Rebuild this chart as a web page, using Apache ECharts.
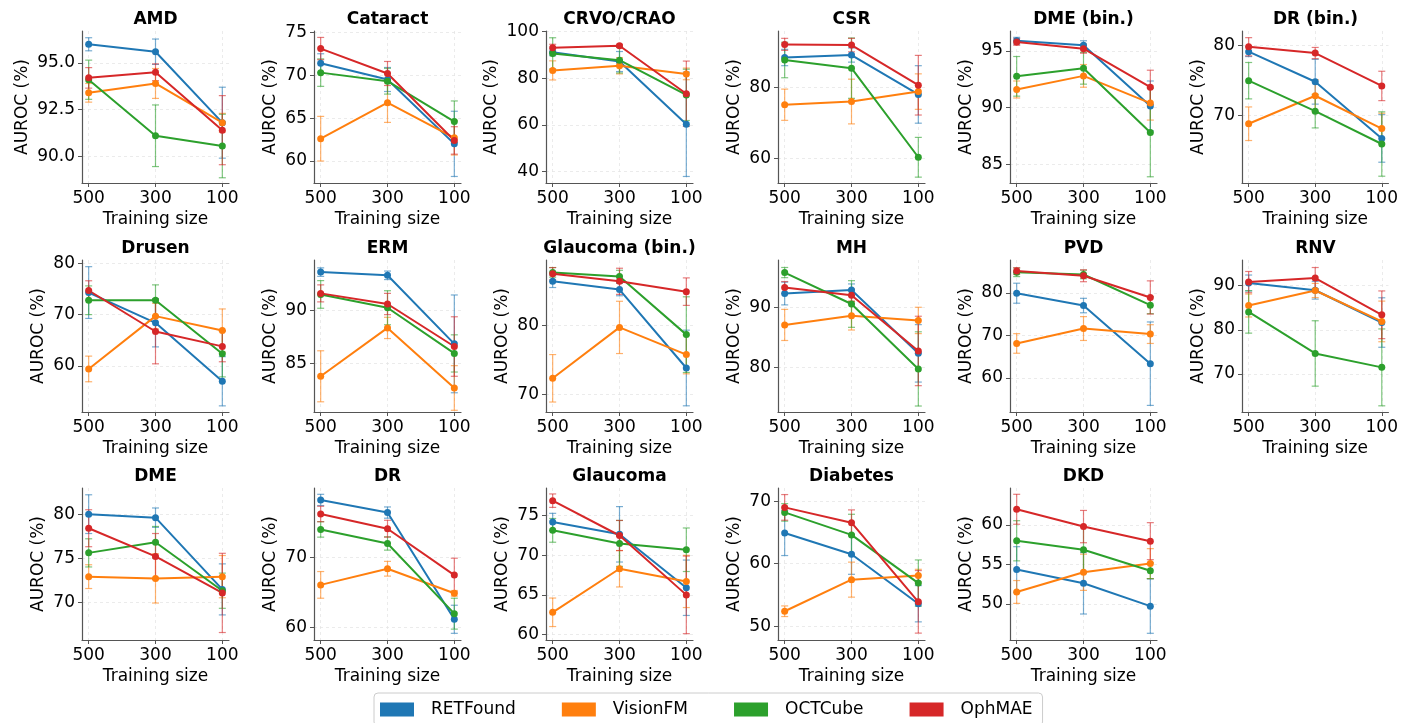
<!DOCTYPE html>
<html>
<head>
<meta charset="UTF-8">
<title>AUROC vs training size</title>
<script src="https://cdn.jsdelivr.net/npm/echarts@6/dist/echarts.min.js"></script>
<style>
  html,body{margin:0;background:#fff;}
  #chart{width:1401px;height:723px;}
</style>
</head>
<body>
<div id="chart"></div>
<script>
const sizes  = ['500','300','100'];
const models = ['RETFound','VisionFM','OCTCube','OphMAE'];
const colors = ['#1f77b4','#ff7f0e','#2ca02c','#d62728'];
const tasks  = ['AMD','Cataract','CRVO/CRAO','CSR','DME (bin.)','DR (bin.)',
                'Drusen','ERM','Glaucoma (bin.)','MH','PVD','RNV',
                'DME','DR','Glaucoma','Diabetes','DKD'];

// mean AUROC (%) at training size 500 / 300 / 100, one row per task
const retfound = [[96.0,95.6,91.8],[71.4,69.5,62.0],[91.2,87.2,60.3],[88.4,89.1,78.0],[95.9,95.5,90.15],[79.1,74.8,66.7],
  [74.3,68.4,57.0],[93.6,93.3,86.85],[86.4,85.2,73.8],[92.3,92.9,82.3],[79.9,77.0,63.35],[90.6,88.95,81.65],
  [80.0,79.6,71.45],[78.2,76.4,61.2],[74.2,72.65,65.9],[64.9,61.5,53.6],[54.35,52.6,49.7]];
const retfoundErr = [[0.35,0.68,1.9],[1.1,1.4,3.8],[1.5,4.3,22.4],[2.3,2.0,8.1],[0.3,0.4,2.2],[0.7,3.2,3.4],
  [5.05,4.7,4.8],[0.4,0.4,4.6],[0.9,0.9,5.5],[1.9,1.0,4.8],[2.35,1.7,9.8],[1.8,2.0,5.6],
  [2.2,1.1,2.9],[0.8,0.8,2.0],[1.1,3.5,3.5],[3.6,3.2,2.9],[2.9,3.9,3.45]];

const visionfm = [[93.4,93.9,91.8],[62.6,66.8,62.7],[83.4,85.4,81.9],[75.1,76.0,78.8],[91.6,92.8,90.4],[68.8,72.8,68.1],
  [59.4,69.7,66.9],[83.8,88.35,82.7],[72.3,79.7,75.75],[87.05,88.6,87.8],[68.1,71.6,70.3],[85.5,88.9,81.9],
  [72.9,72.7,72.9],[66.1,68.4,64.9],[62.8,68.3,66.7],[52.4,57.45,58.1],[51.5,54.0,55.1]];
const visionfmErr = [[0.5,0.8,0.5],[2.6,2.3,2.0],[4.1,3.5,2.5],[4.4,6.3,5.0],[0.75,1.0,1.5],[2.4,2.3,2.2],
  [2.5,2.5,4.2],[2.4,1.0,2.1],[3.45,3.8,2.8],[2.6,2.4,2.2],[2.3,2.8,2.2],[2.6,1.6,4.6],
  [1.35,2.8,2.4],[1.9,1.05,0.4],[1.8,2.3,3.3],[0.85,2.8,1.0],[1.45,2.3,1.9]];

const octcube = [[94.1,91.1,90.55],[70.3,69.3,64.6],[90.7,87.8,72.9],[87.7,85.4,60.3],[92.76,93.47,87.8],[74.95,70.6,65.9],
  [72.8,72.8,62.35],[91.5,90.25,85.95],[87.7,87.1,78.65],[95.8,90.55,79.7],[84.8,84.3,77.1],[84.05,74.65,71.5],
  [75.6,76.8,71.3],[74.0,72.0,62.0],[73.15,71.5,70.7],[68.2,64.6,56.9],[58.0,56.85,54.2]];
const octcubeErr = [[1.05,1.65,1.7],[1.6,1.5,2.4],[6.7,5.5,11.0],[5.0,8.5,5.6],[1.75,1.4,3.9],[2.6,2.4,4.6],
  [2.8,3.0,4.5],[1.3,1.6,1.75],[0.7,0.9,5.5],[0.85,3.9,6.2],[1.0,1.0,2.0],[4.8,7.4,8.7],
  [1.6,1.8,2.0],[1.1,0.95,2.2],[1.5,2.9,2.75],[1.4,3.3,3.7],[2.55,3.0,1.0]];

const ophmae = [[94.2,94.5,91.4],[73.1,70.2,62.4],[93.1,94.0,73.4],[92.1,91.9,80.6],[95.8,95.2,91.8],[79.8,78.9,74.2],
  [74.7,66.7,63.8],[91.6,90.6,86.6],[87.5,86.4,84.9],[93.3,92.0,82.7],[85.1,84.0,78.9],[90.8,91.7,83.4],
  [78.4,75.2,71.05],[76.2,74.1,67.5],[76.9,72.5,65.0],[69.0,66.55,53.9],[62.0,59.8,57.95]];
const ophmaeErr = [[0.55,0.45,1.85],[1.3,1.4,1.6],[1.5,0.6,14.0],[1.7,1.9,8.4],[0.3,0.4,1.5],[1.3,0.8,2.1],
  [1.9,6.3,3.0],[0.8,1.0,2.8],[0.9,1.9,2.0],[1.0,1.0,5.8],[0.8,1.4,3.9],[2.4,2.4,5.4],
  [2.1,2.6,4.5],[1.1,1.2,2.4],[0.85,1.9,4.9],[2.05,2.05,5.0],[1.9,2.05,2.35]];

// y tick labels and axis limits per panel
const yTicks = [[90,92.5,95],[60,65,70,75],[40,60,80,100],[60,80],[85,90,95],[70,80],
  [60,70,80],[85,90],[70,80],[80,90],[60,70,80],[70,80,90],
  [70,75,80],[60,70],[60,65,70,75],[50,60,70],[50,55,60]];
const yMin = [88.57,57.44,35.1,53.05,83.35,60.33,51.0,80.44,67.4,72.5,52.0,61.4,65.7,58.25,59.3,47.8,45.4];
const yMax = [96.71,75.15,100.3,95.87,96.76,82.05,80.65,94.74,89.5,97.9,87.7,95.8,82.97,79.9,78.5,72.1,64.7];

const means = [retfound, visionfm, octcube, ophmae];
const errs  = [retfoundErr, visionfmErr, octcubeErr, ophmaeErr];

const FONT = 'DejaVu Sans';
const rowTop = [31, 260, 488];
const plotW = 147, plotH = 152;

const chart = echarts.init(document.getElementById('chart'));

function fade(hex, a){
  const n = parseInt(hex.slice(1), 16);
  return `rgba(${n>>16},${(n>>8)&255},${n&255},${a})`;
}

function errRender(color){
  return function(params, api){
    const x = api.value(0), m = api.value(1), e = api.value(2);
    const hi = api.coord([x, m + e]), lo = api.coord([x, m - e]);
    const st = {stroke: fade(color, 0.6), lineWidth: 1.2};
    const c = 3.5;
    return {type:'group', children:[
      {type:'line', shape:{x1:hi[0], y1:hi[1], x2:lo[0], y2:lo[1]}, style:st},
      {type:'line', shape:{x1:hi[0]-c, y1:hi[1], x2:hi[0]+c, y2:hi[1]}, style:st},
      {type:'line', shape:{x1:lo[0]-c, y1:lo[1], x2:lo[0]+c, y2:lo[1]}, style:st}
    ]};
  };
}

// rough DejaVu width of a tick label at 17px
function labelWidth(s){
  let w = 0;
  for (const ch of s) w += ch === '.' ? 5.4 : 10.8;
  return w;
}

const grids = [], xAxes = [], yAxes = [], titles = [], series = [];
const gridLine = {show:true, lineStyle:{color:'#e6e6e6', type:[3,3], width:0.8}};
const spine = {show:true, onZero:false, lineStyle:{color:'#555', width:1.2}};

tasks.forEach((task, i) => {
  const r = Math.floor(i / 6), c = i % 6;
  const left = 82 + c * 232, top = rowTop[r];
  grids.push({left, top, width: plotW, height: plotH});
  titles.push({
    text: task, left: left + plotW / 2, top: top - 20, textAlign: 'center', padding: 0,
    textStyle: {fontFamily: FONT, fontSize: 17, fontWeight: 'bold', color: '#000'}
  });
  const decimals = yTicks[i].some(v => v % 1 !== 0) ? 1 : 0;
  const widest = Math.max(...yTicks[i].map(v => labelWidth(v.toFixed(decimals))));
  xAxes.push({
    type: 'value', gridIndex: i, min: -0.1, max: 2.1,
    name: 'Training size', nameLocation: 'middle', nameGap: 28,
    nameTextStyle: {fontFamily: FONT, fontSize: 17, color: '#000'},
    axisLine: spine,
    axisTick: {show: true, length: 4, lineStyle: {color: '#555'}, customValues: [0, 1, 2]},
    axisLabel: {customValues: [0, 1, 2], formatter: v => sizes[Math.round(v)], margin: 7,
                fontFamily: FONT, fontSize: 17, color: '#000'},
    splitLine: gridLine
  });
  yAxes.push({
    type: 'value', gridIndex: i, min: yMin[i], max: yMax[i],
    name: 'AUROC (%)', nameLocation: 'middle', nameGap: widest + 13.5,
    nameTextStyle: {fontFamily: FONT, fontSize: 17, color: '#000'},
    axisLine: spine,
    axisTick: {show: true, length: 4, lineStyle: {color: '#555'}, customValues: yTicks[i]},
    axisLabel: {customValues: yTicks[i], formatter: v => v.toFixed(decimals), margin: 7,
                fontFamily: FONT, fontSize: 17, color: '#000'},
    splitLine: gridLine
  });
  models.forEach((name, m) => {
    const pts = sizes.map((s, k) => [k, means[m][i][k], errs[m][i][k]]);
    series.push({
      type: 'custom', name, xAxisIndex: i, yAxisIndex: i, silent: true,
      itemStyle: {color: colors[m]},
      encode: {x: 0, y: 1},
      renderItem: errRender(colors[m]), data: pts
    });
    series.push({
      type: 'line', name, xAxisIndex: i, yAxisIndex: i,
      data: pts.map(p => [p[0], p[1]]),
      symbol: 'circle', symbolSize: 7, showSymbol: true,
      itemStyle: {color: colors[m]},
      lineStyle: {color: colors[m], width: 2}
    });
  });
});

chart.setOption({
  animation: false,
  title: titles,
  grid: grids,
  xAxis: xAxes,
  yAxis: yAxes,
  legend: {
    data: models, left: 374, top: 693, icon: 'rect',
    itemWidth: 34, itemHeight: 14, itemGap: 46,
    padding: [8, 10, 8, 6], borderColor: '#ccc', borderWidth: 1, borderRadius: 4,
    textStyle: {fontFamily: FONT, fontSize: 17, color: '#000', padding: [0, 0, 0, 12]}
  },
  series
});
</script>
</body>
</html>
